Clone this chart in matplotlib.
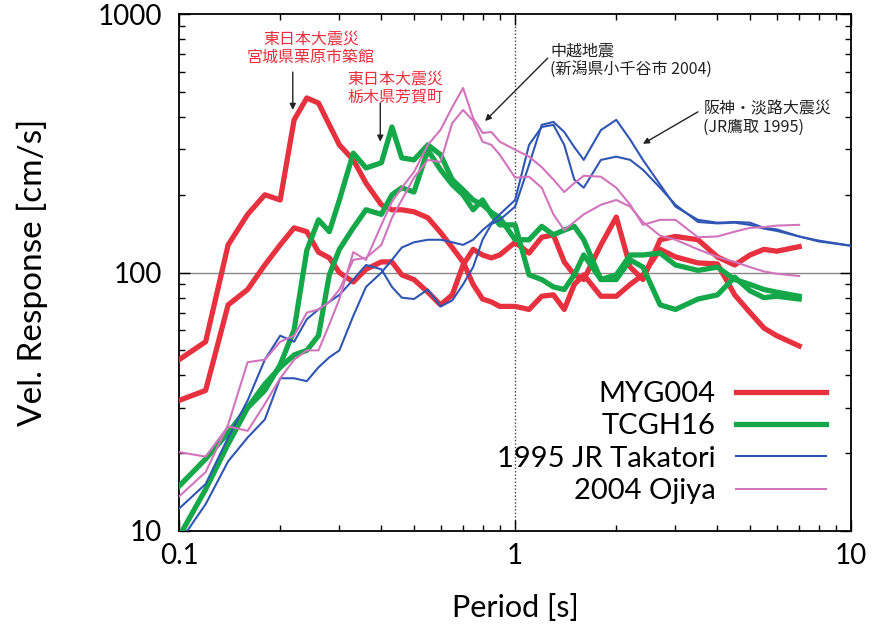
import matplotlib
matplotlib.use("Agg")
import matplotlib.pyplot as plt
from matplotlib.ticker import LogLocator, NullFormatter

plt.rcParams['font.family'] = ['Lato', 'Noto Sans CJK JP', 'DejaVu Sans']

# periods [s] shared by the 2011 records and Ojiya
period = [0.1, 0.12, 0.14, 0.16, 0.18, 0.2, 0.22, 0.24, 0.26, 0.28, 0.3,
          0.33, 0.36, 0.4, 0.43, 0.46, 0.5, 0.55, 0.6, 0.65, 0.7, 0.75, 0.8, 0.85, 0.9,
          1.0, 1.1, 1.2, 1.3, 1.4, 1.5, 1.6, 1.8, 2.0, 2.2, 2.4,
          2.7, 3.0, 3.5, 4.0, 4.5, 5.0, 5.5, 6.0, 7.0]
# Takatori goes on to 10 s
period_takatori = period + [8.0, 10.0]

# velocity response [cm/s], two horizontal components each
myg004_a = [46, 54, 128, 168, 200, 191, 390, 474, 453, 373, 312,
            273, 222, 183, 175, 175, 172, 163, 143, 125, 110, 90, 79, 77, 74,
            74, 72, 81, 82, 72, 90, 98, 81, 81, 90, 98,
            123, 115, 109, 108, 82, 70, 61, 57, 52]
myg004_b = [32, 35, 75, 86, 107, 128, 149, 144, 120, 114, 100,
            92, 103, 110, 110, 98, 94, 84, 75, 82, 107, 123, 117, 114, 117,
            131, 119, 137, 140, 110, 98, 94, 128, 164, 105, 94,
            134, 138, 134, 115, 107, 117, 123, 121, 126]

tcgh16_a = [14.9, 19, 24, 30, 35, 44, 60, 122, 160, 144, 191,
            290, 254, 266, 366, 278, 273, 312, 286, 229, 209, 191, 183, 171, 163,
            134, 134, 151, 140, 146, 151, 134, 94, 98, 117, 117,
            119, 107, 102, 105, 94, 90, 86, 84, 81]
tcgh16_b = [9.5, 14.5, 21.7, 30, 37, 43, 48, 50, 57, 98, 123,
            149, 175, 168, 200, 213, 205, 298, 250, 219, 200, 175, 191, 168, 153,
            153, 98, 94, 88, 86, 98, 117, 94, 94, 112, 105,
            75, 72, 79, 82, 96, 85, 80, 81, 79]

takatori_a = [12.2, 15.2, 23, 32, 46, 57, 54, 66, 72, 77, 82,
              94, 107, 103, 88, 80, 79, 86, 74, 78, 90, 105, 134, 154, 160,
              180, 261, 373, 383, 350, 306, 273, 356, 390, 327, 273,
              219, 180, 160, 156, 157, 156, 149, 147, 138,
              132, 127]
takatori_b = [9.0, 12.7, 18.6, 23, 27, 39, 39, 38, 43, 47, 50,
              68, 88, 100, 112, 125, 131, 134, 134, 131, 128, 134, 146, 156, 168,
              191, 312, 366, 373, 312, 229, 213, 273, 281, 273, 250,
              213, 183, 157, 155, 156, 153, 148, 145, 138,
              133, 127]

ojiya_a = [20.2, 19.4, 25.4, 24.4, 31, 39, 46, 50, 50, 63, 79,
           120, 112, 153, 188, 213, 245, 312, 357, 437, 518, 396, 347, 350, 321,
           299, 281, 256, 229, 205, 222, 237, 235, 213, 183, 153,
           160, 160, 137, 138, 144, 149, 150, 152, 153]
ojiya_b = [13.6, 16.9, 25.8, 45, 46, 54, 57, 70, 72, 77, 86,
           112, 114, 128, 163, 191, 233, 273, 268, 379, 426, 387, 321, 312, 286,
           233, 235, 213, 168, 146, 157, 168, 183, 191, 180, 157,
           139, 134, 123, 115, 110, 105, 101, 99, 97]

RED = '#e8313f'
GREEN = '#14a84a'
BLUE = '#2f56b4'
PINK = '#d174bd'

fig = plt.figure(figsize=(8.81, 6.31), dpi=100)
ax = fig.add_axes([0.2032, 0.1585, 0.763, 0.819])

ax.axhline(100, color='#888888', lw=1.0, zorder=1)
ax.axvline(1, color='#444444', lw=1.0, ls=(0, (1, 1.5)), zorder=1)

ax.plot(period, myg004_a, color=RED, lw=3.8, label='MYG004', zorder=3)
ax.plot(period, myg004_b, color=RED, lw=3.8, zorder=3)
ax.plot(period, tcgh16_a, color=GREEN, lw=3.8, label='TCGH16', zorder=3)
ax.plot(period, tcgh16_b, color=GREEN, lw=3.8, zorder=3)
ax.plot(period_takatori, takatori_a, color=BLUE, lw=1.5, label='1995 JR Takatori', zorder=4)
ax.plot(period_takatori, takatori_b, color=BLUE, lw=1.5, zorder=4)
ax.plot(period, ojiya_a, color=PINK, lw=1.5, label='2004 Ojiya', zorder=4)
ax.plot(period, ojiya_b, color=PINK, lw=1.5, zorder=4)

ax.set_xscale('log')
ax.set_yscale('log')
ax.set_xlim(0.1, 10)
ax.set_ylim(10, 1000)

ax.set_xticks([0.1, 1, 10])
ax.set_xticklabels(['0.1', '1', '10'])
ax.set_yticks([10, 100, 1000])
ax.set_yticklabels(['10', '100', '1000'])
ax.xaxis.set_minor_locator(LogLocator(base=10, subs=range(2, 10)))
ax.yaxis.set_minor_locator(LogLocator(base=10, subs=range(2, 10)))
ax.xaxis.set_minor_formatter(NullFormatter())
ax.yaxis.set_minor_formatter(NullFormatter())
ax.tick_params(which='both', direction='in', top=True, right=True, width=1, labelsize=20)
ax.tick_params(which='major', length=8)
ax.tick_params(which='minor', length=4.5)
ax.tick_params(axis='x', pad=9)
ax.tick_params(axis='y', pad=12)
for s in ax.spines.values():
    s.set_linewidth(1.3)

ax.set_xlabel('Period [s]', fontsize=22, labelpad=18)
ax.set_ylabel('Vel. Response [cm/s]', fontsize=24, labelpad=36)

leg = ax.legend(loc='lower right', bbox_to_anchor=(0.963, 0.052), frameon=False,
                markerfirst=False, fontsize=21, handlelength=3.1, handletextpad=0.7,
                labelspacing=0.22, borderpad=0, borderaxespad=0)

# annotations
jp = dict(family=['Noto Sans CJK JP', 'DejaVu Sans'], fontsize=11.5, linespacing=1.15)
arrow = dict(arrowstyle='-|>', color='#222222', lw=1.0, mutation_scale=9, shrinkA=0, shrinkB=0)

ax.text(0.247, 867, '東日本大震災\n宮城県栗原市築館', color=RED, ha='center', va='top', **jp)
ax.annotate('', xy=(0.218, 426), xytext=(0.218, 597), arrowprops=arrow)

ax.text(0.44, 608, '東日本大震災\n栃木県芳賀町', color=RED, ha='center', va='top', **jp)
ax.annotate('', xy=(0.397, 321), xytext=(0.397, 453), arrowprops=arrow)

ax.text(1.27, 779, '中越地震\n(新潟県小千谷市 2004)', color='#222222', ha='left', va='top', **jp)
ax.annotate('', xy=(0.814, 386), xytext=(1.25, 676), arrowprops=arrow)

ax.text(3.63, 466, '阪神・淡路大震災\n(JR鷹取 1995)', color='#222222', ha='left', va='top', **jp)
ax.annotate('', xy=(2.40, 315), xytext=(3.50, 419), arrowprops=arrow)

fig.savefig('out.png', dpi=100)
